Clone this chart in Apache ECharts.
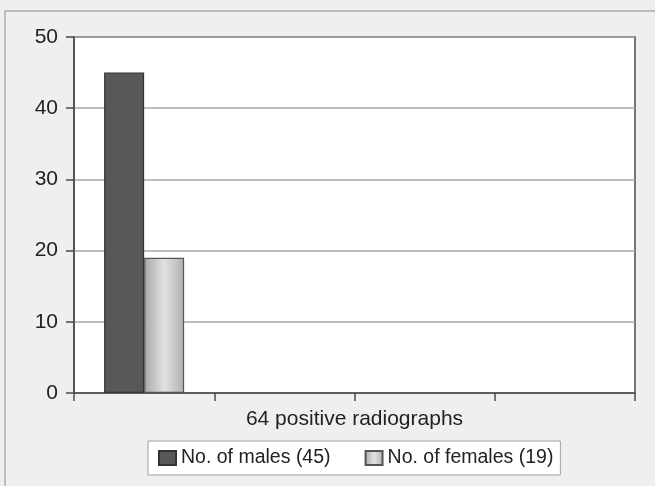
<!DOCTYPE html>
<html>
<head>
<meta charset="utf-8">
<script src="https://cdn.jsdelivr.net/npm/echarts@6/dist/echarts.min.js"></script>
<style>
  html, body { margin: 0; padding: 0; background: #efefef; }
  #chart { width: 655px; height: 486px; }
</style>
</head>
<body>
<div id="chart"></div>
<script>
// Category slots along the x axis (only the first one holds data)
const categories = ['', '', '', ''];
const axisTitle = '64 positive radiographs';
const seriesNames = ['No. of males (45)', 'No. of females (19)'];
const males = [45, null, null, null];
const females = [19, null, null, null];
const yTicks = { min: 0, max: 50, step: 10 };

const chart = echarts.init(document.getElementById('chart'), null, { renderer: 'canvas' });
const font = '"Liberation Sans", Arial, sans-serif';

const femaleFill = new echarts.graphic.LinearGradient(0, 0, 1, 0, [
  { offset: 0, color: '#a6a6a6' },
  { offset: 0.5, color: '#e2e2e2' },
  { offset: 1, color: '#b0b0b0' }
]);

chart.setOption({
  backgroundColor: '#efefef',
  animation: false,
  graphic: [{
    type: 'rect',
    shape: { x: 5, y: 11, width: 700, height: 520 },
    style: { fill: 'none', stroke: '#bdbdbd', lineWidth: 2 },
    silent: true,
    z: -1
  }],
  grid: {
    left: 74, top: 37, right: 20, bottom: 93,
    show: true, backgroundColor: '#ffffff',
    borderColor: '#4a4a4a', borderWidth: 1.5
  },
  legend: {
    left: 148, top: 441,
    padding: [7, 7, 7, 10],
    backgroundColor: '#ffffff',
    borderColor: '#a0a0a0', borderWidth: 1,
    itemWidth: 17, itemHeight: 14, itemGap: 34,
    icon: 'rect',
    textStyle: { fontFamily: font, fontSize: 19.5, color: '#222' },
    data: seriesNames
  },
  xAxis: {
    type: 'category',
    data: categories,
    boundaryGap: true,
    name: axisTitle,
    nameLocation: 'middle',
    nameGap: 16,
    nameTextStyle: { fontFamily: font, fontSize: 21, color: '#222' },
    axisLine: { show: true, lineStyle: { color: '#4a4a4a', width: 1.5 } },
    axisTick: { show: true, length: 8, lineStyle: { color: '#4a4a4a', width: 1.5 } },
    axisLabel: { show: false }
  },
  yAxis: {
    type: 'value',
    min: yTicks.min, max: yTicks.max, interval: yTicks.step,
    axisLine: { show: true, lineStyle: { color: '#4a4a4a', width: 1.5 } },
    axisTick: { show: true, length: 8, lineStyle: { color: '#4a4a4a', width: 1.5 } },
    axisLabel: { margin: 16, fontFamily: font, fontSize: 21, color: '#222' },
    splitLine: { show: true, lineStyle: { color: '#a8a8a8', width: 1.5 } }
  },
  series: [
    {
      name: seriesNames[0],
      type: 'bar',
      data: males,
      barWidth: 40,
      barGap: 0,
      itemStyle: { color: '#585858', borderColor: '#333333', borderWidth: 1.2 }
    },
    {
      name: seriesNames[1],
      type: 'bar',
      data: females,
      barWidth: 40,
      barGap: 0,
      itemStyle: { color: femaleFill, borderColor: '#555555', borderWidth: 1.2 }
    }
  ]
});
</script>
</body>
</html>
